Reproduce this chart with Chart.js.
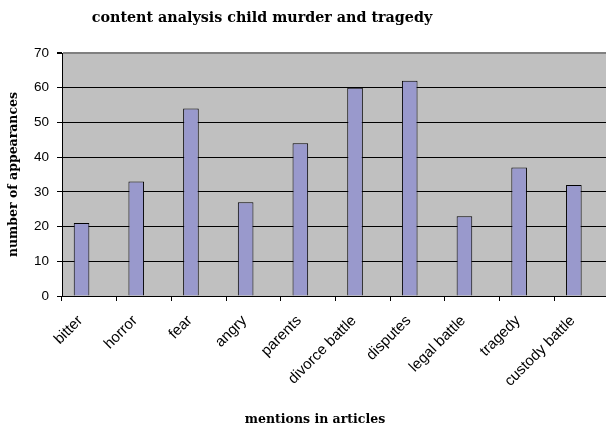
<!DOCTYPE html>
<html>
<head>
<meta charset="utf-8">
<script src="https://cdn.jsdelivr.net/npm/chart.js@4/dist/chart.umd.min.js"></script>
<style>
  html, body { margin: 0; padding: 0; background: #fff; overflow: hidden; }
  #wrap { width: 610px; height: 431px; }
</style>
</head>
<body>
<div id="wrap"><canvas id="chart" width="610" height="431"></canvas></div>
<script>
// данные с картинки
const categories = ['bitter', 'horror', 'fear', 'angry', 'parents', 'divorce battle', 'disputes', 'legal battle', 'tragedy', 'custody battle'];
const appearances = [21, 33, 54, 27, 44, 60, 62, 23, 37, 32];
// вторая (пустая) серия, из-за неё столбики сдвинуты влево, как в Excel
const emptySeries = [null, null, null, null, null, null, null, null, null, null];
const yTicks = [0, 10, 20, 30, 40, 50, 60, 70];

const chartTitle = 'content analysis child murder and tragedy';
const xTitle = 'mentions in articles';

// серый фон области построения + заголовки
const plotBackground = {
  id: 'plotBackground',
  beforeDraw(chart) {
    const { ctx, chartArea: a } = chart;
    ctx.save();
    ctx.fillStyle = '#C0C0C0';
    ctx.fillRect(a.left, a.top, a.right - a.left, a.bottom - a.top);
    ctx.restore();
  },
  afterDraw(chart) {
    const ctx = chart.ctx;
    ctx.save();
    ctx.fillStyle = '#000';
    ctx.textAlign = 'center';
    ctx.textBaseline = 'middle';
    ctx.font = 'bold 14.3px "DejaVu Serif"';
    ctx.fillText(chartTitle, 262, 18);
    ctx.font = 'bold 12.5px "DejaVu Serif"';
    ctx.fillText(xTitle, 315, 420);
    ctx.restore();
  }
};

new Chart(document.getElementById('chart'), {
  type: 'bar',
  data: {
    labels: categories,
    datasets: [{
      label: 'appearances',
      data: appearances,
      backgroundColor: '#9999CC',
      borderColor: '#000',
      borderWidth: 1,
      categoryPercentage: 0.571,
      barPercentage: 1
    }, {
      label: '',
      data: emptySeries,
      categoryPercentage: 0.571,
      barPercentage: 1
    }]
  },
  options: {
    responsive: false,
    animation: false,
    layout: { padding: { top: 53, right: 1, left: 0, bottom: 0 } },
    plugins: {
      legend: { display: false },
      tooltip: { enabled: false }
    },
    scales: {
      x: {
        grid: { display: true, drawOnChartArea: false, drawTicks: true, tickLength: 5, tickColor: '#000', offset: true },
        border: { color: '#000', width: 1 },
        ticks: {
          color: '#000',
          font: { family: '"Liberation Sans"', size: 15 },
          maxRotation: 45,
          minRotation: 45,
          autoSkip: false,
          padding: 11,
          labelOffset: -9
        },
        afterFit(scale) { scale.height = 135; }
      },
      y: {
        min: yTicks[0],
        max: yTicks[yTicks.length - 1],
        afterBuildTicks(scale) { scale.ticks = yTicks.map(v => ({ value: v })); },
        grid: {
          color: ctx => (ctx.tick && ctx.tick.value === 70 ? '#808080' : '#000'),
          lineWidth: ctx => (ctx.tick && ctx.tick.value === 70 ? 2 : 1),
          tickLength: 5,
          tickColor: '#000'
        },
        border: { color: '#000', width: 1 },
        ticks: {
          color: '#000',
          padding: 8,
          font: { family: '"Liberation Sans"', size: 13.5 }
        },
        title: {
          display: true,
          text: 'number of appearances',
          color: '#000',
          font: { family: '"DejaVu Serif"', size: 12.5, weight: 'bold' },
          padding: { top: 6, bottom: 0 }
        },
        afterFit(scale) { scale.width = 62; }
      }
    }
  },
  plugins: [plotBackground]
});
</script>
</body>
</html>
